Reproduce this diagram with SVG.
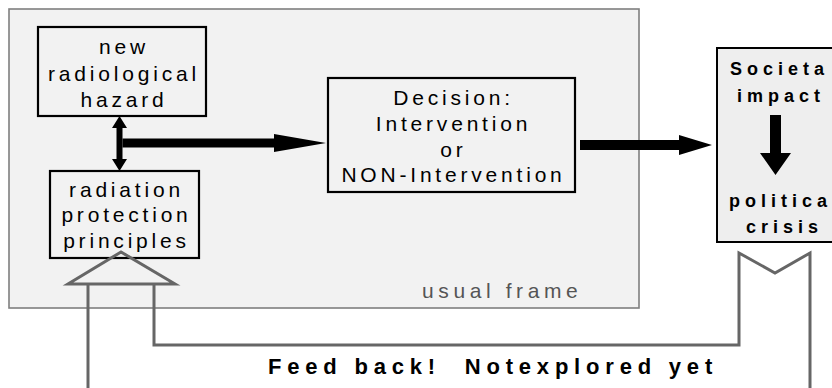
<svg xmlns="http://www.w3.org/2000/svg" width="832" height="388" viewBox="0 0 832 388">
<style>
.box{fill:#f2f2f2;stroke:#000;stroke-width:2.2}
.t{font-family:"Liberation Sans",Arial,sans-serif;font-size:21px;letter-spacing:3.8px;fill:#000;text-anchor:middle}
.b{font-family:"Liberation Sans",Arial,sans-serif;font-size:18px;font-weight:bold;letter-spacing:5px;fill:#000}
.fb{fill:none;stroke:#666;stroke-width:3;stroke-linejoin:miter}
.arr{fill:#000;stroke:none}
</style>
<rect width="832" height="388" fill="#fff"/>
<g id="usual-frame">
<rect x="9" y="9" width="630" height="299" fill="#f2f2f2" stroke="#7f7f7f" stroke-width="1.6"/>
<text x="422" y="298" font-family="Liberation Sans, Arial, sans-serif" font-size="21" letter-spacing="4.6" fill="#555">usual frame</text>
</g>
<g id="hazard">
<rect class="box" x="38" y="27" width="168" height="89"/>
<text class="t" x="124" y="54">new</text>
<text class="t" x="124" y="81">radiological</text>
<text class="t" x="124" y="107">hazard</text>
</g>
<g id="principles">
<rect class="box" x="50" y="171" width="149" height="87"/>
<text class="t" x="126.5" y="197">radiation</text>
<text class="t" x="126.5" y="222">protection</text>
<text class="t" x="126.5" y="248">principles</text>
</g>
<g id="decision">
<rect class="box" x="328" y="78" width="247" height="114"/>
<text class="t" x="453.5" y="105">Decision:</text>
<text class="t" x="453.5" y="131">Intervention</text>
<text class="t" x="453.5" y="157">or</text>
<text class="t" x="453.5" y="182">NON-Intervention</text>
</g>
<g id="societal">
<rect x="717" y="48" width="130" height="194" fill="#eeeeee" stroke="#000" stroke-width="2"/>
<text class="b" x="730" y="75">Societa</text>
<text class="b" x="737" y="102">impact</text>
<text class="b" x="729" y="207">politica</text>
<text class="b" x="746" y="233">crisis</text>
</g>
<g id="connectors">
<polygon class="arr" points="119.5,116 127,128 122.5,128 122.5,159 127,159 119.5,171 112,159 116.5,159 116.5,128 112,128"/>
<polygon class="arr" points="122.5,138.5 274,138.5 274,134 326,143 274,152 274,147.5 122.5,147.5"/>
<polygon class="arr" points="580,140 679,140 679,135 712,145 679,155 679,150 580,150"/>
<polygon class="arr" points="770,115 781,115 781,153 791,153 775.5,175 760,153 770,153"/>
<polygon class="fb" points="121,252 68,284 175,284"/>
<polyline class="fb" points="88,284 88,390"/>
<polyline class="fb" points="154,284 154,345 739,345 739,253 775,273 810,253 810,390"/>
</g>
<text x="268" y="374" xml:space="preserve" font-family="Liberation Sans, Arial, sans-serif" font-size="22" font-weight="bold" letter-spacing="5.8" fill="#000">Feed back!  Notexplored yet</text>
</svg>
